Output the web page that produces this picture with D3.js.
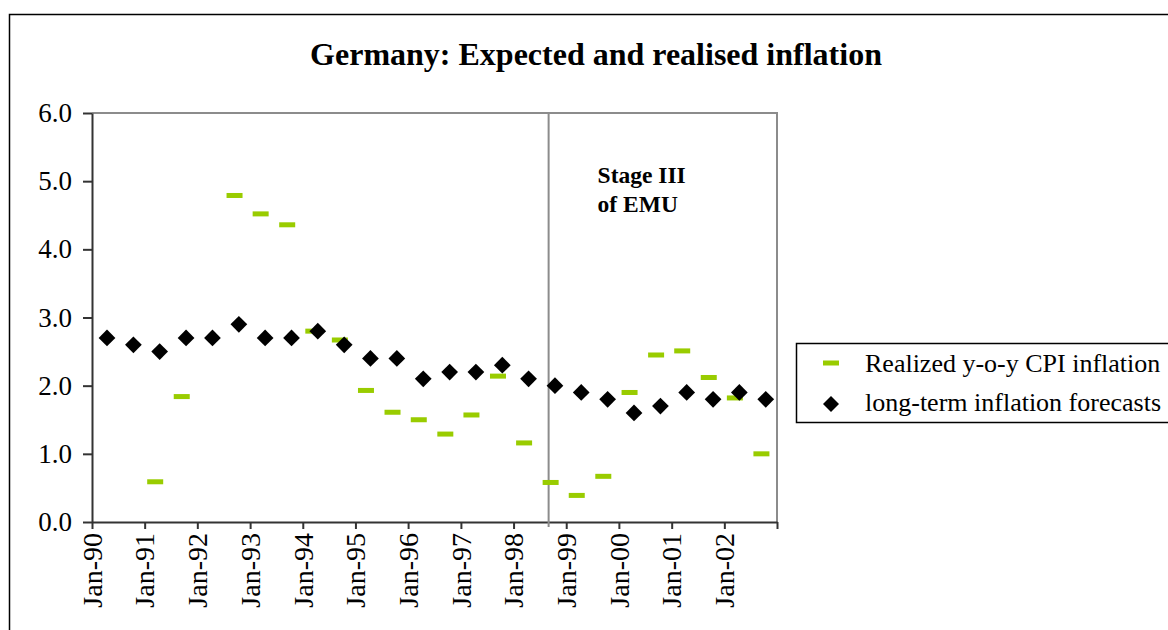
<!DOCTYPE html>
<html>
<head>
<meta charset="utf-8">
<script src="https://cdn.jsdelivr.net/npm/d3@7"></script>
<style>
  html, body { margin: 0; padding: 0; background: #fff; overflow: hidden; }
  #chart { width: 1168px; height: 630px; }
  text { font-family: "Liberation Serif", "Times New Roman", serif; fill: #000; }
</style>
</head>
<body>
<div id="chart"></div>
<script>
// survey dates of the long-term forecasts (spring / autumn)
const forecastDates = [
  '1990-04-15', '1990-10-15', '1991-04-15', '1991-10-15', '1992-04-15', '1992-10-15',
  '1993-04-15', '1993-10-15', '1994-04-15', '1994-10-15', '1995-04-15', '1995-10-15',
  '1996-04-15', '1996-10-15', '1997-04-15', '1997-10-15', '1998-04-15', '1998-10-15',
  '1999-04-15', '1999-10-15', '2000-04-15', '2000-10-15', '2001-04-15', '2001-10-15',
  '2002-04-15', '2002-10-15'
];
const forecastValues = [
  2.7, 2.6, 2.5, 2.7, 2.7, 2.9,
  2.7, 2.7, 2.8, 2.6, 2.4, 2.4,
  2.1, 2.2, 2.2, 2.3, 2.1, 2.0,
  1.9, 1.8, 1.6, 1.7, 1.9, 1.8,
  1.9, 1.8
];
// realised y-o-y CPI, one month before each survey
const realizedDates = [
  '1990-03-15', '1990-09-15', '1991-03-15', '1991-09-15', '1992-03-15', '1992-09-15',
  '1993-03-15', '1993-09-15', '1994-03-15', '1994-09-15', '1995-03-15', '1995-09-15',
  '1996-03-15', '1996-09-15', '1997-03-15', '1997-09-15', '1998-03-15', '1998-09-15',
  '1999-03-15', '1999-09-15', '2000-03-15', '2000-09-15', '2001-03-15', '2001-09-15',
  '2002-03-15', '2002-09-15'
];
const realizedValues = [
  null, null, 0.59, 1.84, null, 4.79,
  4.52, 4.36, 2.80, 2.67, 1.93, 1.61,
  1.50, 1.29, 1.57, 2.14, 1.16, 0.58,
  0.39, 0.67, 1.90, 2.45, 2.51, 2.12,
  1.82, 1.00
];
const yearTicks = ['1990', '1991', '1992', '1993', '1994', '1995', '1996',
  '1997', '1998', '1999', '2000', '2001', '2002', '2003'];
const yTicks = [0, 1, 2, 3, 4, 5, 6];
const emuDate = '1998-09-01';
const titleText = 'Germany: Expected and realised inflation';
const emuLabel = ['Stage III', 'of EMU'];
const legendLabels = ['Realized y-o-y CPI inflation', 'long-term inflation forecasts'];

class InflationChart {
  constructor(id) {
    this.id = id;
    this.width = 1168;
    this.height = 630;
    // plot area
    this.margin = { top: 113, right: 391, bottom: 108, left: 92 };
    this.green = '#99cc00';
    this.parse = d3.timeParse('%Y-%m-%d');
    this.init();
  }
  init() {
    this.svg = d3.select(`#${this.id}`)
      .append('svg')
      .attr('width', this.width)
      .attr('height', this.height);
    this.innerWidth = this.width - this.margin.left - this.margin.right;
    this.innerHeight = this.height - this.margin.top - this.margin.bottom;

    this.x = d3.scaleTime()
      .domain([this.parse('1990-01-01'), this.parse('2003-01-01')])
      .range([0, this.innerWidth]);
    this.y = d3.scaleLinear()
      .domain([0, 6])
      .range([this.innerHeight, 0]);

    this.mg = this.svg.append('g')
      .attr('transform', `translate(${this.margin.left},${this.margin.top})`);
    return this;
  }
  render() {
    this.renderFrame();
    this.renderAxes();
    this.renderEmu();
    this.renderRealized();
    this.renderForecasts();
    this.renderLegend();
    return this;
  }
  renderFrame() {
    // outer chart border, runs off the bottom/right of the picture
    this.svg.append('rect')
      .attr('x', 9.5).attr('y', 14.5)
      .attr('width', this.width + 20).attr('height', this.height + 20)
      .attr('fill', 'none')
      .attr('stroke', '#000')
      .attr('stroke-width', 1.5);

    this.svg.append('text')
      .attr('x', 596).attr('y', 65)
      .attr('text-anchor', 'middle')
      .style('font-size', '32px')
      .style('font-weight', 'bold')
      .text(titleText);

    // top and right edges of the plot area
    this.mg.append('path')
      .attr('d', `M0,0H${this.innerWidth}V${this.innerHeight}`)
      .attr('fill', 'none')
      .attr('stroke', '#8c8c8c')
      .attr('stroke-width', 2);
  }
  renderAxes() {
    const fmt = d3.timeFormat('%b-%y');
    const ticks = yearTicks.map(d => this.parse(`${d}-01-01`));
    const last = ticks[ticks.length - 1];

    const xAxis = this.mg.append('g')
      .attr('transform', `translate(0,${this.innerHeight})`)
      .call(d3.axisBottom(this.x)
        .tickValues(ticks)
        .tickSize(7)
        .tickSizeOuter(0)
        .tickFormat(d => +d === +last ? '' : fmt(d)));
    xAxis.selectAll('text')
      .attr('transform', 'rotate(-90)')
      .attr('x', -11)
      .attr('y', 0)
      .attr('dy', '0.33em')
      .attr('text-anchor', 'end')
      .style('font-size', '28px');

    const yAxis = this.mg.append('g')
      .call(d3.axisLeft(this.y)
        .tickValues(yTicks)
        .tickSize(9)
        .tickPadding(11)
        .tickSizeOuter(0)
        .tickFormat(d3.format('.1f')));
    yAxis.selectAll('text')
      .style('font-size', '27px');

    this.mg.selectAll('.domain, .tick line')
      .attr('stroke', '#333')
      .attr('stroke-width', 2);
  }
  renderEmu() {
    const ex = this.x(this.parse(emuDate));
    this.mg.append('line')
      .attr('x1', ex).attr('x2', ex)
      .attr('y1', 0).attr('y2', this.innerHeight + 5)
      .attr('stroke', '#8c8c8c')
      .attr('stroke-width', 2);

    this.mg.append('text')
      .attr('x', ex + 49)
      .attr('y', 70)
      .style('font-size', '23.5px')
      .style('font-weight', 'bold')
      .selectAll('tspan')
      .data(emuLabel)
      .join('tspan')
      .attr('x', ex + 49)
      .attr('dy', (d, i) => i === 0 ? 0 : 29)
      .text(d => d);
  }
  renderRealized() {
    const data = realizedDates
      .map((d, i) => ({ date: this.parse(d), value: realizedValues[i] }))
      .filter(d => d.value !== null);
    this.mg.append('g')
      .selectAll('rect')
      .data(data)
      .join('rect')
      .attr('x', d => this.x(d.date) - 8)
      .attr('y', d => this.y(d.value) - 2.5)
      .attr('width', 16)
      .attr('height', 5)
      .attr('fill', this.green);
  }
  renderForecasts() {
    const diamond = d3.symbol().type(d3.symbolSquare).size(140);
    this.mg.append('g')
      .selectAll('path')
      .data(forecastDates.map((d, i) => ({ date: this.parse(d), value: forecastValues[i] })))
      .join('path')
      .attr('d', diamond)
      .attr('transform', d => `translate(${this.x(d.date)},${this.y(d.value)}) rotate(45)`)
      .attr('fill', '#000');
  }
  renderLegend() {
    const lg = this.svg.append('g')
      .attr('transform', 'translate(796,343)');
    lg.append('rect')
      .attr('x', 0.5).attr('y', 0.5)
      .attr('width', 420).attr('height', 79)
      .attr('fill', '#fff')
      .attr('stroke', '#000')
      .attr('stroke-width', 1.5);

    lg.append('rect')
      .attr('x', 27).attr('y', 17.5)
      .attr('width', 16).attr('height', 5)
      .attr('fill', this.green);
    lg.append('path')
      .attr('d', d3.symbol().type(d3.symbolSquare).size(128))
      .attr('transform', 'translate(35,61) rotate(45)')
      .attr('fill', '#000');

    lg.selectAll('text')
      .data(legendLabels)
      .join('text')
      .attr('x', 69)
      .attr('y', (d, i) => 29 + i * 39)
      .style('font-size', '26px')
      .text(d => d);
  }
}

new InflationChart('chart').render();
</script>
</body>
</html>
